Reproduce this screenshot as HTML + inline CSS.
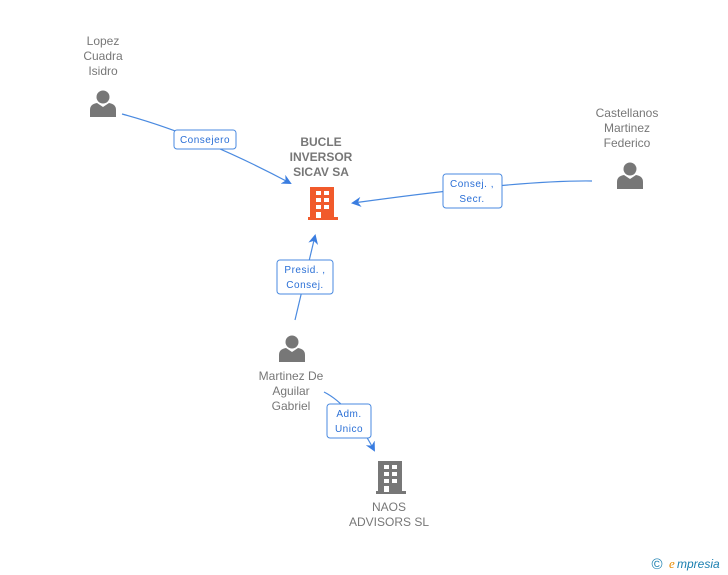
<!DOCTYPE html>
<html><head><meta charset="utf-8"><style>
html,body{margin:0;padding:0;background:#fff;}
svg{display:block;font-family:"Liberation Sans",Arial,sans-serif;}
.n{font-size:12px;fill:#777;text-anchor:middle;}
.l{font-size:10px;fill:#2a6fd6;text-anchor:middle;letter-spacing:0.5px;}
.b{fill:#fff;stroke:#4a8ae0;stroke-width:1;}
.e{stroke:#4a8ae0;stroke-width:1.2;fill:none;}
</style></head><body>
<svg width="728" height="575" viewBox="0 0 728 575">
<defs>
<marker id="a" markerWidth="10" markerHeight="10" refX="8" refY="5" orient="auto" markerUnits="userSpaceOnUse">
<path d="M0,0 L10,5 L0,10 L3,5 Z" fill="#3a7de0"/></marker>
<g id="p"><circle cx="0" cy="-7" r="6.5" fill="#777"/><path d="M-13,13 L-13,6 Q-13,0 -6,-1 L0,3 L6,-1 Q13,0 13,6 L13,13 Z" fill="#777"/></g>
<g id="bld"><rect x="2" y="0" width="24" height="30"/><rect x="0" y="30" width="30" height="3"/></g>
</defs>
<!-- edges -->
<path class="e" d="M122,114 Q200,135 290,183" marker-end="url(#a)"/>
<path class="e" d="M592,181 Q520,180 353,203" marker-end="url(#a)"/>
<path class="e" d="M295,320 L315,236" marker-end="url(#a)"/>
<path class="e" d="M324,392 Q350,405 374,450" marker-end="url(#a)"/>
<!-- labels -->
<rect class="b" x="174" y="130" width="62" height="19" rx="3"/><text class="l" x="205" y="143">Consejero</text>
<rect class="b" x="443" y="174" width="59" height="34" rx="3"/><text class="l" x="472" y="187">Consej. ,</text><text class="l" x="472" y="202">Secr.</text>
<rect class="b" x="277" y="260" width="56" height="34" rx="3"/><text class="l" x="305" y="273">Presid. ,</text><text class="l" x="305" y="288">Consej.</text>
<rect class="b" x="327" y="404" width="44" height="34" rx="3"/><text class="l" x="349" y="417">Adm.</text><text class="l" x="349" y="432">Unico</text>
<!-- nodes -->
<text class="n" x="103" y="45">Lopez</text><text class="n" x="103" y="60">Cuadra</text><text class="n" x="103" y="75">Isidro</text>
<use href="#p" x="103" y="104"/>
<text class="n" x="627" y="117">Castellanos</text><text class="n" x="627" y="132">Martinez</text><text class="n" x="627" y="147">Federico</text>
<use href="#p" x="630" y="176"/>
<text x="321" y="146" style="font-size:12px;font-weight:bold;fill:#777;text-anchor:middle">BUCLE</text>
<text x="321" y="161" style="font-size:12px;font-weight:bold;fill:#777;text-anchor:middle">INVERSOR</text>
<text x="321" y="176" style="font-size:12px;font-weight:bold;fill:#777;text-anchor:middle">SICAV SA</text>
<g transform="translate(308,187)" fill="#f15a2b"><use href="#bld"/>
<g fill="#fff"><rect x="8" y="4" width="5" height="4"/><rect x="16" y="4" width="5" height="4"/><rect x="8" y="11" width="5" height="4"/><rect x="16" y="11" width="5" height="4"/><rect x="8" y="18" width="5" height="4"/><rect x="16" y="18" width="5" height="4"/><rect x="8" y="25" width="5" height="6"/></g></g>
<use href="#p" x="292" y="349"/>
<text class="n" x="291" y="380">Martinez De</text><text class="n" x="291" y="395">Aguilar</text><text class="n" x="291" y="410">Gabriel</text>
<g transform="translate(376,461)" fill="#777"><use href="#bld"/>
<g fill="#fff"><rect x="8" y="4" width="5" height="4"/><rect x="16" y="4" width="5" height="4"/><rect x="8" y="11" width="5" height="4"/><rect x="16" y="11" width="5" height="4"/><rect x="8" y="18" width="5" height="4"/><rect x="16" y="18" width="5" height="4"/><rect x="8" y="25" width="5" height="6"/></g></g>
<text class="n" x="389" y="511">NAOS</text><text class="n" x="389" y="526">ADVISORS SL</text>
<!-- footer -->
<text x="657" y="569" style="font-size:15px;fill:#1a7fb0;text-anchor:middle">©</text>
<text x="669" y="568" style="font-size:13px;font-style:italic;fill:#e88a00;font-family:'Liberation Serif',serif">e</text>
<text x="677" y="568" style="font-size:12px;font-style:italic;fill:#1a7fb0">mpresia</text>
</svg>
</body></html>
